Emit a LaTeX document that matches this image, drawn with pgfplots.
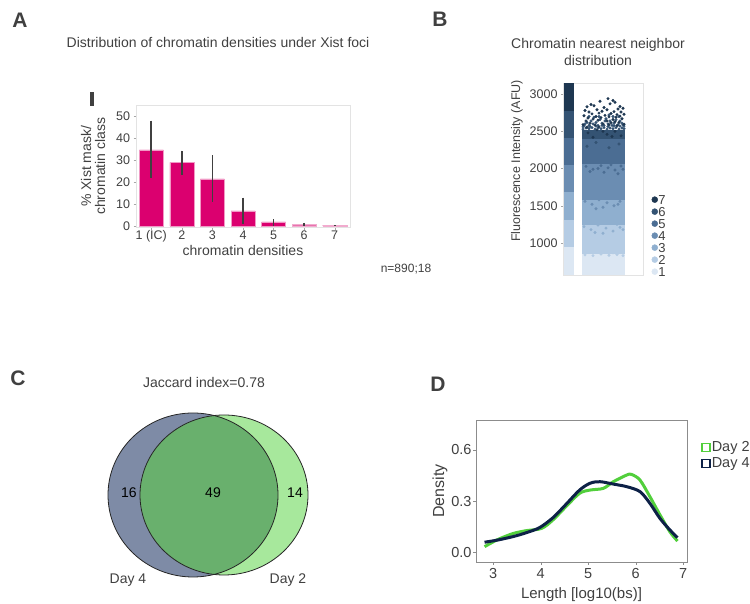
\documentclass[border=0pt]{standalone}
\usepackage{fontspec}
\setmainfont{Liberation Sans}
\usepackage{pgfplots}
\pgfplotsset{compat=1.18}

\definecolor{txt}{HTML}{404040}
\definecolor{barcol}{HTML}{DB006F}
\definecolor{barlt}{HTML}{E873AE}
\definecolor{boxgray}{HTML}{E3E3E3}
% chromatin classes 1..7
\definecolor{ca}{HTML}{DCE7F3}
\definecolor{cb}{HTML}{B5CCE4}
\definecolor{cc}{HTML}{8FAFCF}
\definecolor{cd}{HTML}{6B8DB2}
\definecolor{ce}{HTML}{4B6D93}
\definecolor{cf}{HTML}{345373}
\definecolor{cg}{HTML}{1E3751}
% venn
\definecolor{vdfour}{HTML}{7E8BA6}
\definecolor{vdtwo}{HTML}{A7E89C}
\definecolor{vboth}{HTML}{69B06D}
% density
\definecolor{dgreen}{HTML}{52CF3C}
\definecolor{dnavy}{HTML}{0D2147}

\newcommand{\fs}[1]{\fontsize{#1}{#1}\selectfont}

\begin{document}
\begin{tikzpicture}
\path[use as bounding box] (0,0) rectangle (750pt,604pt);

% ---------- panel letters and loose texts
\node[text=txt, font=\fs{21}\bfseries] at (20pt,584pt) {A};
\node[text=txt, font=\fs{21}\bfseries] at (440pt,585pt) {B};
\node[text=txt, font=\fs{21}\bfseries] at (18pt,226pt) {C};
\node[text=txt, font=\fs{21}\bfseries] at (438pt,220pt) {D};
\node[text=txt, font=\fs{14}] at (218pt,561pt) {Distribution of chromatin densities under Xist foci};
\node[text=txt, font=\fs{14}, align=center] at (598pt,552pt) {Chromatin nearest neighbor\\[3pt]distribution};
\node[text=txt, font=\fs{12}] at (406pt,335pt) {n=890;18};
\node[inner sep=0pt] at (92pt,505pt) {\color{txt}\rule{3.5pt}{14pt}};
\node[text=txt, font=\fs{14}] at (204pt,221pt) {Jaccard index=0.78};

% ---------- A: bar chart
\begin{axis}[
  at={(136pt,376.5pt)}, anchor=south west, scale only axis,
  width=214pt, height=122.5pt,
  xmin=0.5, xmax=7.5, ymin=-0.6, ymax=55,
  ybar, bar width=24pt, bar shift=0pt,
  xtick={1,...,7}, xticklabels={1 (IC),2,3,4,5,6,7},
  ytick={0,10,20,30,40,50},
  axis line style={boxgray},
  tick style={color=gray!70}, major tick length=2.5pt,
  tick align=outside, xtick pos=bottom, ytick pos=left,
  xticklabel style={yshift=3pt},
  /pgf/number format/assume math mode=true,
  tick label style={font=\fs{12.5}, text=txt},
  xlabel={chromatin densities},
  xlabel style={font=\fs{14}, text=txt, yshift=4pt},
  ylabel={\% Xist mask/\\chromatin class},
  ylabel style={font=\fs{14}, text=txt, align=center, yshift=4pt},
  error bars/y dir=both, error bars/y explicit,
  error bars/error mark=none,
  error bars/error bar style={line width=1.6pt, color=txt},
]
\addplot[fill=barcol, draw=barcol!40!white, line width=0.4pt] coordinates {
  (1,34.6) += (0,13.3) -= (0,12.8)
  (2,28.9) += (0,5.4)  -= (0,5.6)
  (3,21.5) += (0,10.6) -= (0,10.4)
  (4,6.9)  += (0,6.0)  -= (0,5.7)
  (5,2.0)  += (0,1.2)  -= (0,2.0)
};
\addplot[fill=barlt, draw=barlt!60!white, line width=0.4pt] coordinates {
  (6,0.9)  += (0,0.6)  -= (0,0.9)
  (7,0.45) += (0,0.1)  -= (0,0.1)
};
\end{axis}

% ---------- B: nearest neighbour distribution
\begin{axis}[
  at={(563pt,329pt)}, anchor=south west, scale only axis,
  width=80pt, height=192pt,
  xmin=0, xmax=80, ymin=570, ymax=3150,
  xtick=\empty, ytick={1000,1500,2000,2500,3000},
  axis line style={boxgray},
  tick style={color=gray!70}, major tick length=2pt,
  tick align=outside, ytick pos=left,
  /pgf/number format/assume math mode=true,
  /pgf/number format/1000 sep={},
  tick label style={font=\fs{12.5}, text=txt},
  ylabel={Fluorescence Intensity (AFU)},
  ylabel style={font=\fs{12.5}, text=txt, at={(ticklabel cs:0.594)}},
  legend image code/.code={\fill[#1] (3pt,0pt) circle[radius=3pt];},
  legend style={at={(1.067,0.43)}, anchor=north west, draw=none, fill=none,
    font=\fs{13}, text=txt, row sep=2pt,
    nodes={inner sep=0.5pt, text height=9pt, text depth=0pt}},
  legend cell align=left,
]
% left class stripe
\addplot[fill=ca, draw=none, forget plot] coordinates {(1,570) (11,570) (11,945) (1,945)} -- cycle;
\addplot[fill=cb, draw=none, forget plot] coordinates {(1,945) (11,945) (11,1312) (1,1312)} -- cycle;
\addplot[fill=cc, draw=none, forget plot] coordinates {(1,1312) (11,1312) (11,1679) (1,1679)} -- cycle;
\addplot[fill=cd, draw=none, forget plot] coordinates {(1,1679) (11,1679) (11,2046) (1,2046)} -- cycle;
\addplot[fill=ce, draw=none, forget plot] coordinates {(1,2046) (11,2046) (11,2413) (1,2413)} -- cycle;
\addplot[fill=cf, draw=none, forget plot] coordinates {(1,2413) (11,2413) (11,2780) (1,2780)} -- cycle;
\addplot[fill=cg, draw=none, forget plot] coordinates {(1,2780) (11,2780) (11,3147) (1,3147)} -- cycle;
% dense body of the jittered column
\addplot[fill=ca, draw=none, forget plot] coordinates {(19,570) (62,570) (62,858) (19,858)} -- cycle;
\addplot[fill=cb, draw=none, forget plot] coordinates {(19,858) (62,858) (62,1244) (19,1244)} -- cycle;
\addplot[fill=cc, draw=none, forget plot] coordinates {(19,1244) (62,1244) (62,1578) (19,1578)} -- cycle;
\addplot[fill=cd, draw=none, forget plot] coordinates {(19,1578) (62,1578) (62,2060) (19,2060)} -- cycle;
\addplot[fill=ce, draw=none, forget plot] coordinates {(19,2060) (62,2060) (62,2400) (19,2400)} -- cycle;
\addplot[fill=cf, draw=none, forget plot] coordinates {(19,2400) (62,2400) (62,2520) (19,2520)} -- cycle;
% scattered points
\addplot[only marks, mark=*, mark size=1.3pt, color=cb, forget plot] coordinates {
 (22,840) (30,830) (38,850) (46,835) (54,845) (60,830) (26,872) (50,868)};
\addplot[only marks, mark=*, mark size=1.3pt, color=cc, forget plot] coordinates {
 (21,1220) (28,1180) (35,1240) (43,1200) (50,1160) (57,1210) (32,1140) (54,1250) (40,1130) (60,1180)};
\addplot[only marks, mark=*, mark size=1.3pt, color=cd, forget plot] coordinates {
 (22,1560) (29,1520) (36,1580) (44,1540) (51,1500) (57,1560) (40,1480) (55,1520) (25,1600) (47,1600) (33,1460)};
\addplot[only marks, mark=*, mark size=1.3pt, color=ce, forget plot] coordinates {
 (23,2030) (30,1990) (38,2040) (45,2010) (52,1980) (58,2035) (27,1960) (48,2050) (41,1950) (35,2000) (55,1930) (60,1990)};
\addplot[only marks, mark=*, mark size=1.3pt, color=cf, forget plot] coordinates {
 (20,2530) (23,2545) (26,2535) (29,2550) (32,2530) (35,2545) (38,2535) (41,2550)
 (44,2530) (47,2545) (50,2535) (53,2550) (56,2530) (59,2545) (61,2535)
 (21,2575) (27,2565) (33,2570) (39,2580) (45,2565) (51,2575) (57,2570) (60,2585)
 (20,2560) (22,2600) (24,2620) (26,2580) (28,2640) (30,2600) (33,2620) (35,2580)
 (37,2660) (39,2610) (41,2580) (43,2670) (45,2600) (47,2640) (49,2580) (51,2610)
 (53,2655) (55,2590) (57,2640) (59,2610) (61,2570) (31,2690) (46,2720) (56,2700)
 (26,2700) (42,2640) (36,2700) (50,2700) (24,2300) (33,2350) (46,2280) (56,2330)};
\addplot[only marks, mark=*, mark size=1.3pt, color=cg, forget plot] coordinates {
 (37,2905) (45,2940) (50,2915) (52,2890) (28,2860) (24,2830) (31,2845) (57,2835)
 (60,2810) (55,2800) (41,2820) (47,2870) (34,2790) (22,2780) (26,2760) (39,2770)
 (44,2790) (51,2765) (58,2760) (29,2735) (36,2745) (48,2740) (54,2725) (61,2730)
 (21,2710) (33,2700) (42,2715) (46,2695) (53,2690) (57,2705) (25,2680) (30,2665)
 (38,2685) (50,2660) (59,2670) (23,2640) (35,2650) (44,2640) (52,2630) (27,2610)
 (40,2600) (48,2615) (56,2620) (61,2595) (32,2585) (20,2590)
 (25,2480) (34,2520) (44,2460) (52,2500) (58,2440) (30,2420) (40,2500) (49,2430)
 (36,2560) (54,2575) (24,2555) (46,2590)};
\addlegendimage{cg}\addlegendentry{7}
\addlegendimage{cf}\addlegendentry{6}
\addlegendimage{ce}\addlegendentry{5}
\addlegendimage{cd}\addlegendentry{4}
\addlegendimage{cc}\addlegendentry{3}
\addlegendimage{cb}\addlegendentry{2}
\addlegendimage{ca}\addlegendentry{1}
\end{axis}

% ---------- C: Venn diagram (axis units are points)
\begin{axis}[
  at={(100pt,0pt)}, anchor=south west, scale only axis,
  width=220pt, height=190pt,
  xmin=0, xmax=220, ymin=-14, ymax=176,
  hide axis, clip=false,
]
\fill[vdfour] (axis cs:93,95) ellipse[x radius=85, y radius=82];
\fill[vdtwo] (axis cs:124,95) ellipse[x radius=84, y radius=80];
\begin{scope}
  \clip (axis cs:93,95) ellipse[x radius=85, y radius=82];
  \fill[vboth] (axis cs:124,95) ellipse[x radius=84, y radius=80];
\end{scope}
\draw[black!85, line width=0.8pt] (axis cs:93,95) ellipse[x radius=85, y radius=82];
\draw[black!85, line width=0.8pt] (axis cs:124,95) ellipse[x radius=84, y radius=80];
\node[font=\fs{14}] at (axis cs:29,97) {16};
\node[font=\fs{14}] at (axis cs:113,97) {49};
\node[font=\fs{14}] at (axis cs:195,97) {14};
\node[font=\fs{14}, text=txt] at (axis cs:28,10) {Day 4};
\node[font=\fs{14}, text=txt] at (axis cs:188,10) {Day 2};
\end{axis}

% ---------- D: length densities
\begin{axis}[
  at={(476pt,42pt)}, anchor=south west, scale only axis,
  width=211pt, height=142pt,
  xmin=2.64, xmax=7.08, ymin=-0.057, ymax=0.776,
  xtick={3,4,5,6,7}, ytick={0,0.3,0.6},
  yticklabels={0.0,0.3,0.6},
  axis line style={gray!90},
  tick style={color=gray!90}, major tick length=3pt,
  tick align=outside, xtick pos=bottom, ytick pos=left,
  /pgf/number format/assume math mode=true,
  tick label style={font=\fs{14.5}, text=txt},
  yticklabel style={xshift=2pt},
  xlabel={Length [log10(bs)]},
  xlabel style={font=\fs{15}, text=txt, yshift=-2pt},
  ylabel={Density},
  ylabel style={font=\fs{16}, text=txt, yshift=-3pt},
  legend image code/.code={\draw[#1, line width=1.6pt] (0.8pt,-4pt) rectangle (8.8pt,4pt);},
  legend style={at={(1.052,0.87)}, anchor=north west, draw=none, fill=none,
    font=\fs{14.5}, text=txt, row sep=2.5pt, nodes={inner sep=1pt}},
  legend cell align=left,
]
\addplot[dgreen, line width=3pt, smooth] coordinates {
  (2.82,0.033) (3.10,0.075) (3.42,0.110) (3.70,0.127) (4.02,0.140) (4.26,0.190)
  (4.54,0.270) (4.82,0.346) (5.04,0.365) (5.32,0.375) (5.53,0.414) (5.81,0.453)
  (5.91,0.457) (6.09,0.424) (6.30,0.326) (6.51,0.220) (6.72,0.120) (6.88,0.066)};
\addlegendentry{Day 2}
\addplot[dnavy, line width=3pt, smooth] coordinates {
  (2.82,0.059) (3.10,0.072) (3.42,0.092) (3.70,0.115) (3.98,0.145) (4.26,0.203)
  (4.54,0.283) (4.82,0.365) (5.04,0.405) (5.25,0.414) (5.53,0.400) (5.81,0.385)
  (6.09,0.356) (6.30,0.287) (6.51,0.199) (6.72,0.131) (6.88,0.086)};
\addlegendentry{Day 4}
\end{axis}
\end{tikzpicture}
\end{document}
